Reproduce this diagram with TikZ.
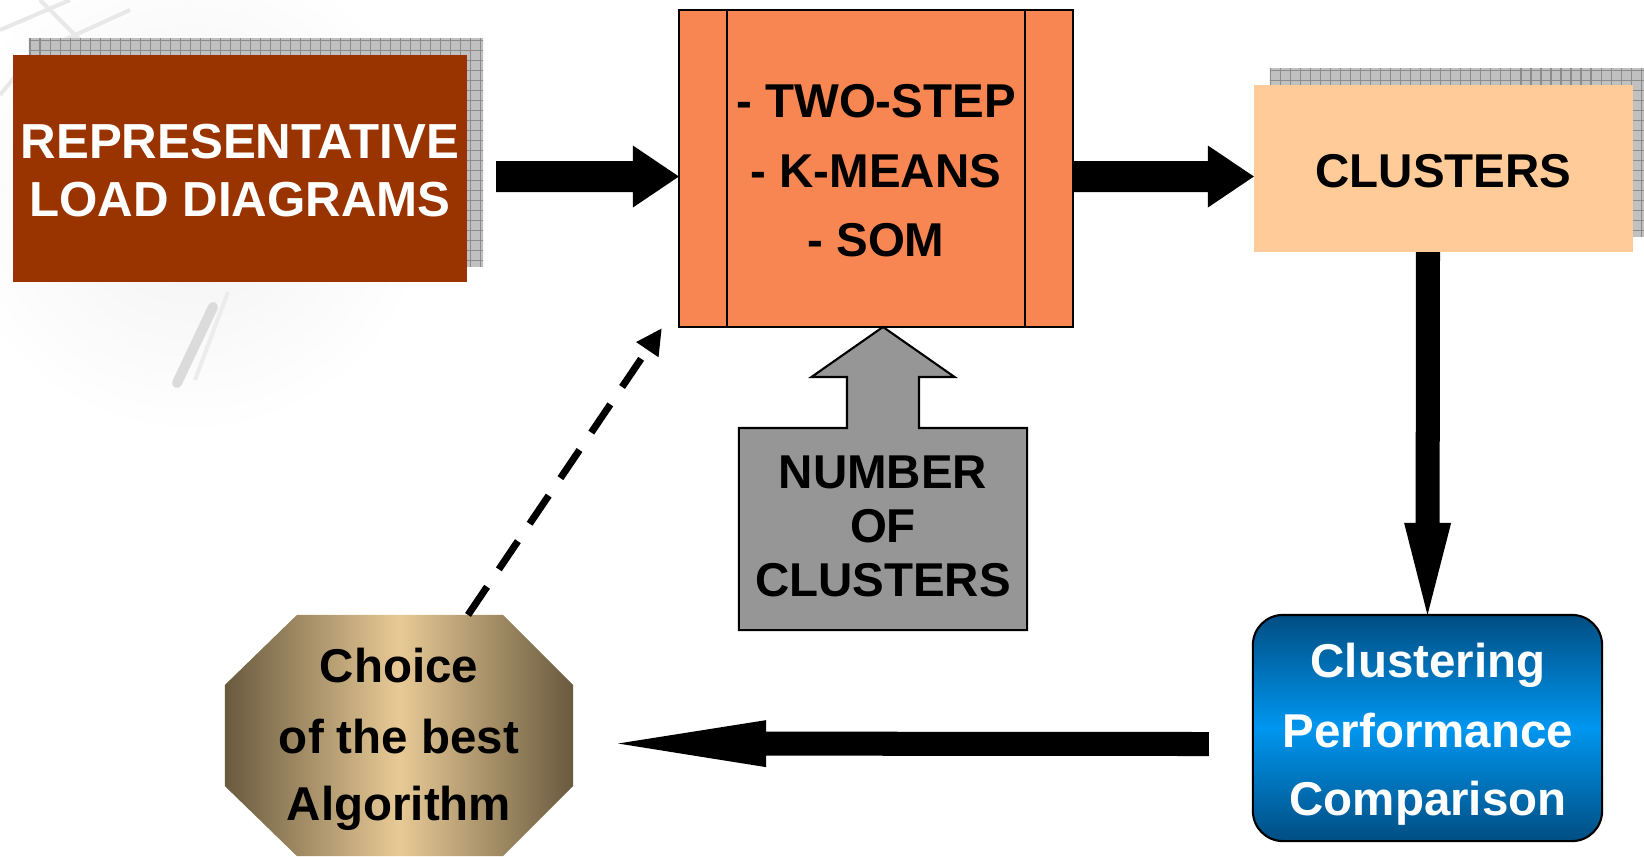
\documentclass[tikz,border=0pt]{standalone}
\usepackage{fontspec}
\setmainfont{Liberation Sans}
\usetikzlibrary{arrows.meta,calc}

\definecolor{rust}{RGB}{153,51,0}
\definecolor{algfill}{RGB}{247,134,82}
\definecolor{clusfill}{RGB}{255,204,153}
\definecolor{numfill}{RGB}{150,150,150}
\definecolor{perfdark}{RGB}{0,78,130}
\definecolor{perfmid}{RGB}{0,150,240}
\definecolor{choicedark}{RGB}{105,90,62}
\definecolor{choicelight}{RGB}{232,202,150}
\definecolor{shadowbase}{RGB}{192,192,192}
\definecolor{shadowgrid}{RGB}{140,140,140}

% hatched drop shadow: a gray grid clipped to the given path
\newcommand\gridshadow[1]{%
  \begin{scope}
    \clip #1;
    \fill[shadowbase] (0,856) rectangle (1644,0);
    \draw[shadowgrid, line width=0.3pt, step=0.1cm] (0,856) grid (1644,0);
  \end{scope}}

% solid block arrow from coordinate #1 to tip #2:
% #3 half shaft width, #4 half head width, #5 head length
\newcommand\blockarrow[5]{%
  \path ($(#2)!#5!(#1)$) coordinate (ba-q);
  \fill ($(#1)!#3!90:(#2)$) -- ($(ba-q)!#3!90:(#2)$) -- ($(ba-q)!#4!90:(#2)$)
    -- (#2) -- ($(ba-q)!#4!-90:(#2)$) -- ($(ba-q)!#3!-90:(#2)$)
    -- ($(#1)!#3!-90:(#2)$) -- cycle;}

\tikzset{
  lbl/.style={anchor=base, inner sep=0pt, font=\bfseries\fontsize{13.5}{16}\selectfont},
  biglbl/.style={lbl, font=\bfseries\fontsize{14}{16}\selectfont},
  plainbox/.style={rectangle, inner sep=0pt, outer sep=0pt},
  dasharrow/.style={line width=0.07cm, dash pattern=on 0.34cm off 0.21cm,
    -{Triangle[length=0.26cm,width=0.25cm]}},
}

\begin{document}
\begin{tikzpicture}[x=0.01cm, y=-0.01cm]
  \useasboundingbox (0,0) rectangle (1644,856);
  \clip (0,0) rectangle (1644,856);

  % faint globe-and-pen artwork behind the first box
  \shade[inner color=gray!11, outer color=white] (190,190) circle[radius=2.45cm];
  \draw[gray!18, line width=0.04cm] (0,30) -- (70,0) (20,60) -- (130,10) (40,0) -- (110,70)
    (0,95) -- (45,40);
  \draw[gray!28, line width=0.1cm, line cap=round] (213,307) -- (177,383);
  \draw[gray!15, line width=0.04cm] (228,292) -- (195,380);

  % node frames
  \node[plainbox, minimum width=4.54cm, minimum height=2.27cm] (rep) at (240,168.5) {};
  \node[plainbox, minimum width=3.94cm, minimum height=3.17cm] (alg) at (876,168.5) {};
  \node[plainbox, minimum width=3.79cm, minimum height=1.67cm] (clus) at (1443.5,168.5) {};
  \node[plainbox, minimum width=2.88cm, minimum height=2.02cm] (num) at (883,529) {};
  \node[plainbox, minimum width=3.49cm, minimum height=2.26cm] (perf) at (1427.5,728) {};
  \node[plainbox, minimum width=3.48cm, minimum height=2.41cm] (choice) at (399,735.5) {};

  % drop shadows
  \gridshadow{($(rep.south west)+(16,-16)$) rectangle ($(rep.north east)+(16,-16)$)}
  \gridshadow{($(clus.south west)+(16,-16)$) rectangle ($(clus.north east)+(16,-16)$)}
  \begin{scope}[shift={(16,-16)}]
    \gridshadow{(num.south west) -- (num.north west) -- ($(num.north)+(-36,0)$)
      -- ($(num.north)+(-36,-51)$) -- ($(num.north)+(-71.5,-51)$)
      -- ($(num.north)+(0,-101)$) -- ($(num.north)+(71.5,-51)$)
      -- ($(num.north)+(36,-51)$) -- ($(num.north)+(36,0)$)
      -- (num.north east) -- (num.south east) -- cycle}
  \end{scope}

  % representative load diagrams
  \fill[rust] (rep.south west) rectangle (rep.north east);
  \node[biglbl, text=white] (rep-a) at (240,158) {REPRESENTATIVE};
  \node[biglbl, text=white] (rep-b) at (240,216) {LOAD DIAGRAMS};

  % clustering algorithms
  \filldraw[fill=algfill, draw=black, line width=0.6pt] (alg.south west) rectangle (alg.north east);
  \draw[line width=0.6pt] ($(alg.north west)+(48,0)$) -- ($(alg.south west)+(48,0)$)
                          ($(alg.north east)+(-48,0)$) -- ($(alg.south east)+(-48,0)$);
  \node[lbl] (alg-a) at (876,117) {- TWO-STEP};
  \node[lbl] (alg-b) at (876,187) {- K-MEANS};
  \node[lbl] (alg-c) at (876,256) {- SOM};

  % clusters
  \fill[clusfill] (clus.south west) rectangle (clus.north east);
  \node[lbl] (clus-a) at (1443.5,187) {CLUSTERS};

  % number of clusters: upward block arrow into the algorithms box
  \filldraw[fill=numfill, draw=black, line width=0.6pt]
    (num.south west) -- (num.north west) -- ($(num.north)+(-36,0)$)
    -- ($(num.north)+(-36,-51)$) -- ($(num.north)+(-71.5,-51)$)
    -- ($(num.north)+(0,-101)$) -- ($(num.north)+(71.5,-51)$)
    -- ($(num.north)+(36,-51)$) -- ($(num.north)+(36,0)$)
    -- (num.north east) -- (num.south east) -- cycle;
  \node[lbl] (num-a) at (883,488) {NUMBER};
  \node[lbl] (num-b) at (883,542) {OF};
  \node[lbl] (num-c) at (883,596) {CLUSTERS};

  % clustering performance comparison
  \shade[top color=perfdark, bottom color=perfdark, middle color=perfmid, rounded corners=0.3cm]
    (perf.south west) rectangle (perf.north east);
  \draw[line width=0.6pt, rounded corners=0.3cm] (perf.south west) rectangle (perf.north east);
  \node[lbl, text=white] (perf-a) at (1428,677) {Clustering};
  \node[lbl, text=white] (perf-b) at (1428,747) {Performance};
  \node[lbl, text=white] (perf-c) at (1428,815) {Comparison};

  % choice of the best algorithm (octagon)
  \shade[left color=choicedark, right color=choicedark, middle color=choicelight]
    ($(choice.north west)+(72,0)$) -- ($(choice.north east)+(-70,0)$)
    -- ($(choice.north east)+(0,70)$) -- ($(choice.south east)+(0,-70)$)
    -- ($(choice.south east)+(-70,0)$) -- ($(choice.south west)+(72,0)$)
    -- ($(choice.south west)+(0,-70)$) -- ($(choice.north west)+(0,70)$) -- cycle;
  \node[lbl] (choice-a) at (399,682) {Choice};
  \node[lbl] (choice-b) at (399,753) {of the best};
  \node[lbl] (choice-c) at (399,820) {Algorithm};

  % connectors
  \coordinate (c1s) at ($(rep.east)+(29,8)$);
  \coordinate (c1e) at ($(alg.west)+(0,8)$);
  \coordinate (c2s) at ($(alg.east)+(0,8)$);
  \coordinate (c2e) at ($(clus.west)+(0,8)$);
  \coordinate (c3s) at ($(clus.south)+(-15.5,0)$);
  \coordinate (c3e) at (perf.north);
  \coordinate (c4s) at ($(perf.west)+(-44,16)$);
  \coordinate (c4e) at ($(choice.east)+(45,8)$);
  \blockarrow{c1s}{c1e}{0.155cm}{0.31cm}{0.46cm}
  \blockarrow{c2s}{c2e}{0.155cm}{0.31cm}{0.46cm}
  \blockarrow{c3s}{c3e}{0.12cm}{0.235cm}{0.92cm}
  \blockarrow{c4s}{c4e}{0.12cm}{0.235cm}{1.48cm}
  \draw[dasharrow] ($(choice.north)+(69,0)$) -- ($(alg.south west)+(-17,1)$);
\end{tikzpicture}
\end{document}
